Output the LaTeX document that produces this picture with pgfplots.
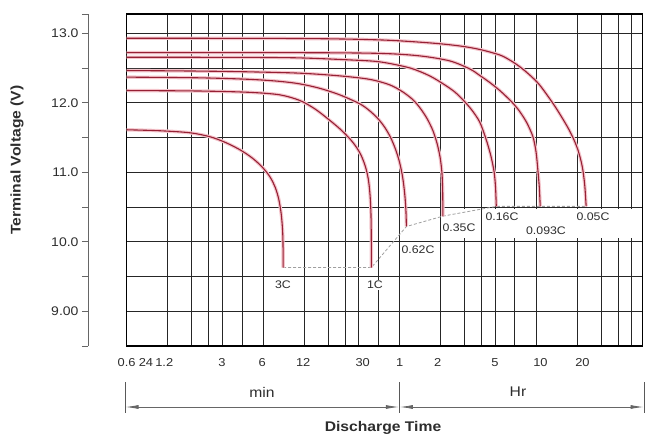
\documentclass[border=0pt]{standalone}
\usepackage{pgfplots}
\pgfplotsset{compat=1.18}
\usepackage{fontspec}
\setmainfont{Liberation Sans}[FakeStretch=1.12]
\usetikzlibrary{arrows.meta}
\definecolor{crv}{RGB}{150,32,52}
\definecolor{halo}{RGB}{244,196,203}
\definecolor{txt}{RGB}{45,45,45}
\newcommand{\fs}[1]{\fontsize{#1}{#1}\selectfont}

\begin{document}
\begin{tikzpicture}[x=1pt,y=1pt]
\useasboundingbox (-126.7,-91) rectangle (521.3,346);
\begin{axis}[
  at={(0,0)}, anchor=south west,
  scale only axis, width=515.5pt, height=332pt,
  xmode=log, xmin=0.6, xmax=3600, ymin=8.5, ymax=13.28,
  xtick={0.6,1.2,1.8,2.4,3,4.2,6,12,18,24,30,42,60,120,180,240,300,420,600,1200,1800,2400,3000,3600},
  xticklabels={},
  ytick={9,9.5,10,10.5,11,11.5,12,12.5,13}, yticklabels={},
  xminorticks=false, yminorticks=false,
  major tick length=0pt,
  xmajorgrids=true, ymajorgrids=true,
  grid style={black!85, line width=0.9pt},
  axis line style={black, line width=1.3pt},
  extra x ticks={0.6,0.83,1.13,3,5.9,11.8,32.2,60,114,300,647,1313},
  extra x tick labels={0.6,24,1.2,3,6,12,30,1,2,5,10,20},
  extra x tick style={grid=none, major tick length=0pt},
  xticklabel style={font=\fs{11.5}, text=txt, yshift=-9pt},
  clip=false,
  redcurve/.style={draw=crv, line width=1.1pt, preaction={draw=halo, line width=3.4pt}},
]
% white label background
\fill[white] (axis cs:128.3,10.06) rectangle (axis cs:3436,10.475);
\draw[black!85, line width=0.9pt] (axis cs:240,10.06) -- (axis cs:240,10.5);

% connecting dotted line of end points
\addplot[gray!75, line width=0.8pt, densely dashed] coordinates {
(8.4,9.63) (37.3,9.63) (67.3,10.22) (124.7,10.37) (306.7,10.51) (644,10.51) (1398,10.51)};

% 3C
\addplot[redcurve, smooth] coordinates {
(0.6,11.613) (1.052,11.599) (1.744,11.570) (2.443,11.513) (3.146,11.434) (4.051,11.326) (4.960,11.211) (5.870,11.082) (6.72,10.938) (7.37,10.780) (7.82,10.608) (8.15,10.392) (8.34,10.148) (8.40,9.889) (8.40,9.627)};
% 1C
\addplot[redcurve, smooth] coordinates {
(0.6,12.178) (2.065,12.171) (4.795,12.152) (7.95,12.116) (11.14,12.035) (14.34,11.915) (17.86,11.772) (21.86,11.628) (25.87,11.485) (29.12,11.355) (31.67,11.226) (33.88,11.068) (35.45,10.895) (36.43,10.680) (36.98,10.435) (37.2,10.105) (37.3,9.627)};
% 0.62C
\addplot[redcurve, smooth] coordinates {
(0.6,12.371) (2.065,12.361) (4.795,12.339) (7.95,12.310) (11.14,12.274) (15.60,12.210) (21.86,12.116) (30.63,11.987) (36.24,11.886) (41.70,11.772) (46.68,11.649) (51.65,11.499) (56.19,11.326) (60.10,11.139) (63.25,10.924) (65.40,10.694) (66.73,10.464) (67.3,10.224)};
% 0.35C
\addplot[redcurve, smooth] coordinates {
(0.6,12.466) (2.065,12.458) (4.795,12.447) (11.14,12.428) (21.86,12.389) (36.24,12.339) (50.79,12.260) (63.25,12.159) (75.24,12.045) (85.62,11.915) (95.53,11.772) (105.4,11.599) (113.1,11.412) (119.0,11.211) (122.6,10.996) (124.1,10.751) (124.7,10.368)};
% 0.16C
\addplot[redcurve, smooth] coordinates {
(0.6,12.658) (4.795,12.655) (11.14,12.648) (25.87,12.619) (42.91,12.591) (71.15,12.504) (99.67,12.389) (128.4,12.260) (151.9,12.159) (174.7,12.045) (202.3,11.901) (231.5,11.728) (256.1,11.499) (278.7,11.254) (295.6,11.010) (303.1,10.780) (306.7,10.511)};
% 0.093C
\addplot[redcurve, smooth] coordinates {
(0.6,12.724) (11.14,12.723) (42.91,12.713) (84.24,12.677) (139.7,12.605) (195.7,12.490) (231.5,12.397) (274.0,12.296) (324.3,12.181) (364.9,12.088) (405.8,11.997) (454.4,11.879) (511.2,11.721) (568.6,11.517) (600.0,11.297) (618.6,11.039) (634.4,10.780) (644.0,10.511)};
% 0.05C
\addplot[redcurve, smooth] coordinates {
(0.6,12.931) (11.14,12.927) (42.91,12.907) (99.67,12.864) (165.3,12.820) (231.5,12.770) (324.3,12.691) (383.8,12.619) (454.4,12.523) (537.8,12.404) (636.4,12.260) (796.3,11.997) (922.3,11.800) (1037.8,11.628) (1129,11.484) (1208,11.341) (1270,11.197) (1321,11.039) (1366,10.809) (1398,10.511)};
\end{axis}

% separate y axis
\begin{axis}[
  at={(-38.7pt,0)}, anchor=south west,
  scale only axis, width=10pt, height=332pt,
  xmin=0, xmax=1, ymin=8.5, ymax=13.28,
  axis x line=none, axis y line=left,
  axis line style={-, draw=black!60, line width=0.9pt},
  ytick={8.5,9,9.5,10,10.5,11,11.5,12,12.5,13,13.28},
  yticklabels={,9.00,,10.0,,11.0,,12.0,,13.0,},
  tick align=outside, major tick length=6pt,
  tick style={draw=black!60, line width=0.9pt},
  yticklabel style={font=\fs{12.5}, text=txt},
]
\addplot[draw=none] coordinates {(0,9)};
\end{axis}

% curve labels
\begin{scope}[every node/.style={font=\fs{11}, text=txt, fill=white, inner sep=1pt}]
\node at (156.3,61) {3C};
\node at (248.3,61) {1C};
\node at (291.3,96) {0.62C};
\node[fill=none] at (332.3,118) {0.35C};
\node[fill=none] at (375.3,129) {0.16C};
\node[fill=none] at (419.3,115) {0.093C};
\node[fill=none] at (466.3,129) {0.05C};
\end{scope}

% axis title
\node[rotate=90, font=\bfseries\fs{14}, text=txt] at (-109.7,186) {Terminal Voltage (V)};
\node[font=\bfseries\fs{14}, text=txt] at (256.3,-82) {Discharge Time};

% time range annotation
\node[font=\fs{14}, text=txt] at (135.3,-46) {min};
\node[font=\fs{14}, text=txt] at (391.3,-46) {Hr};
\draw[black!65, line width=1pt] (-1.7,-36) -- (-1.7,-67);
\draw[black!65, line width=1pt] (272.6,-36) -- (272.6,-67);
\draw[black!65, line width=1pt] (517.3,-36) -- (517.3,-67);
\draw[black!60, line width=0.8pt, {Latex[length=13pt,width=4pt]}-{Latex[length=13pt,width=4pt]}] (-1.2,-61) -- (272.1,-61);
\draw[black!60, line width=0.8pt, {Latex[length=13pt,width=4pt]}-{Latex[length=13pt,width=4pt]}] (273.1,-61) -- (516.8,-61);
\end{tikzpicture}
\end{document}
